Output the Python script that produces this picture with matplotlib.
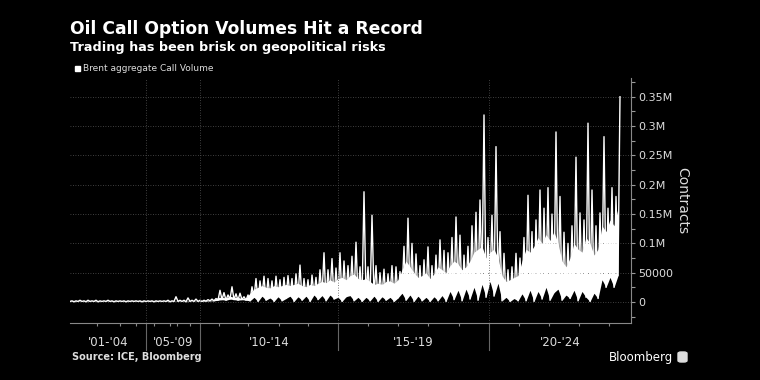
import matplotlib.pyplot as plt
import numpy as np
from matplotlib.patches import Rectangle, FancyBboxPatch
from matplotlib.ticker import FixedLocator, FuncFormatter

# Brent aggregate call volume, in thousands of contracts.
# Each bin holds the low, the typical level and the high of the daily values.
vol_high = [
    2, 2, 3, 2, 3, 2, 3, 2, 2, 3, 2, 2, 2, 2, 2, 2, 2, 2, 2,
    2, 2, 2, 2, 2, 3, 2, 9, 3, 3, 7, 3, 5, 3,
    3, 4, 5, 6, 20, 16, 12, 26, 14, 15, 9, 12,
    26, 40, 36, 44, 40, 36, 44, 38, 42, 45, 40, 48, 63,
    40, 38, 46, 42, 55, 84, 55, 74, 58, 84, 70, 62, 78, 102, 60,
    188, 60, 148, 62, 50, 56, 48, 62, 60, 52,
    95, 143, 100, 82, 62, 72, 94, 62,
    80, 106, 88, 84, 110, 145, 114, 80, 95,
    130, 153, 174, 319, 110, 148, 265, 120,
    83, 55, 60, 83, 75,
    110, 182, 120, 140, 191, 160, 195, 150, 290, 180,
    119, 100, 130, 247, 152, 140, 305, 191, 130, 152,
    282, 160, 195, 180, 350,
]
vol_typical = [
    1.5, 1.5, 1.5, 1.5, 1.5, 1.5, 1.5, 1.5, 1.5, 1.5, 1.5, 1.5, 1.5, 1.5, 1.5, 1.5, 1.5, 1.5, 1.5,
    1.5, 1.5, 1.5, 1.5, 1.5, 1.5, 1.5, 1.5, 1.5, 1.5, 1.5, 1.5, 1.5, 1.5,
    2, 2.5, 3, 3.5, 8, 8, 7, 10, 8, 8, 6, 7,
    15, 22, 25, 28, 25, 24, 28, 26, 28, 30, 28, 30, 32,
    28, 26, 30, 28, 32, 35, 33, 38, 34, 40, 42, 38, 45, 48, 40,
    38, 40, 35, 30, 32, 30, 35, 36, 32, 38,
    55, 70, 60, 50, 42, 45, 50, 40,
    48, 60, 55, 50, 62, 70, 65, 55, 60,
    70, 85, 90, 95, 75, 85, 90, 75,
    45, 35, 38, 42, 45,
    70, 90, 85, 95, 110, 100, 115, 105, 120, 100,
    70, 60, 75, 100, 90, 85, 110, 100, 80, 90,
    130, 120, 140, 130, 160,
]
vol_low = [
    1, 0.5, 1, 1, 0.5, 1, 1, 0.5, 1, 1, 1, 0.5, 1, 1, 0.5, 1, 1, 1, 0.5,
    1, 1, 0.5, 1, 1, 1, 0.5, 1, 1, 1, 0.5, 1, 1, 1,
    1, 1.5, 2, 2, 3, 4, 3, 5, 4, 3, 4, 3,
    2, 8, 1, 10, 3, 7, 1, 9, 2, 6, 10, 1, 9,
    3, 10, 1, 12, 4, 11, 2, 12, 5, 8, 1, 9, 11, 2, 8,
    1, 8, 2, 10, 1, 9, 3, 8, 1, 7,
    15, 3, 12, 1, 10, 2, 8, 1,
    9, 2, 11, 1, 18, 4, 20, 2, 22,
    5, 25, 3, 30, 8, 35, 10, 32,
    2, 8, 1, 6, 2,
    14, 2, 20, 1, 18, 5, 25, 3, 16, 22,
    3, 12, 6, 20, 2, 18, 8, 1, 15, 6,
    38, 25, 42, 25, 45,
]

# observation index where each period starts, plus the axis end
period_starts = [0, 76, 130, 268, 419]
period_labels = ["'01-'04", "'05-'09", "'10-'14", "'15-'19", "'20-'24"]
axis_end = 561
year_ticks = [27, 50, 66, 84, 100, 107, 120, 149, 178, 209, 238,
              298, 328, 358, 389, 449, 479, 509, 539]
bin_width = 4

hi = np.array(vol_high) * 1000
mid = np.array(vol_typical) * 1000
lo = np.array(vol_low) * 1000
n = len(hi)
xb = np.arange(n) * bin_width
xs = np.empty(2 * n)
ys = np.empty(2 * n)
xs[0::2] = xb
xs[1::2] = xb + bin_width / 2
ys[0::2] = lo
ys[1::2] = hi

fig = plt.figure(figsize=(7.6, 3.8), dpi=100, facecolor='black')
ax = fig.add_axes([70 / 760, 1 - 323 / 380, 561 / 760, 245 / 380])
ax.set_facecolor('black')

ax.fill_between(xb, lo, np.maximum(mid, lo), color='white', lw=0)
ax.plot(xs, ys, color='white', lw=1.0)

ax.set_xlim(0, axis_end)
ax.set_ylim(-35800, 382000)

# y axis on the right
ax.yaxis.tick_right()
ax.yaxis.set_label_position('right')
ax.set_yticks(np.arange(0, 350001, 50000))
ax.yaxis.set_minor_locator(FixedLocator(np.arange(-25000, 380000, 50000)))
ax.yaxis.set_major_formatter(FuncFormatter(
    lambda v, p: '0' if v == 0 else ('50000' if v == 50000 else f'{v / 1e6:g}M')))
ax.tick_params(axis='y', which='both', colors='#999999', labelcolor='#dddddd',
               labelsize=8, length=3, width=0.8, pad=2)
ax.set_ylabel('Contracts', rotation=270, color='#dddddd', fontsize=10, labelpad=12)
ax.grid(axis='y', color='#555555', linestyle=(0, (1, 2)), linewidth=0.6)

# x axis: period labels centred, year ticks as minor ticks
ends = period_starts[1:] + [axis_end]
centres = [(a + b) / 2 for a, b in zip(period_starts, ends)]
ax.set_xticks(centres)
ax.set_xticklabels(period_labels)
ax.xaxis.set_minor_locator(FixedLocator(year_ticks))
ax.tick_params(axis='x', which='major', length=0, pad=9, labelsize=8.5,
               labelcolor='#dddddd')
ax.tick_params(axis='x', which='minor', length=2.5, width=0.8, colors='#888888')

for s in period_starts[1:]:
    ax.axvline(s, color='#555555', linestyle=(0, (1, 2)), linewidth=0.6)
    ax.plot([s, s], [0, -0.11], color='#666666', lw=0.8,
            transform=ax.get_xaxis_transform(), clip_on=False)

for side in ['top', 'left']:
    ax.spines[side].set_visible(False)
ax.spines['right'].set_color('#888888')
ax.spines['bottom'].set_color('#888888')

# titles and notes
fig.text(70 / 760, 1 - 34 / 380, 'Oil Call Option Volumes Hit a Record',
         color='white', fontsize=12.3, fontweight='bold', va='baseline')
fig.text(70 / 760, 1 - 51 / 380, 'Trading has been brisk on geopolitical risks',
         color='white', fontsize=9.2, fontweight='bold', va='baseline')
fig.patches.append(Rectangle((75 / 760, 1 - 71 / 380), 5 / 760, 5 / 380,
                             transform=fig.transFigure, color='white'))
fig.text(83 / 760, 1 - 68.5 / 380, 'Brent aggregate Call Volume',
         color='#dddddd', fontsize=6.5, va='center')
fig.text(72 / 760, 1 - 357 / 380, 'Source: ICE, Bloomberg',
         color='#dddddd', fontsize=7, fontweight='bold', va='center')
fig.text(673 / 760, 1 - 357 / 380, 'Bloomberg', color='white',
         fontsize=8.5, va='center', ha='right')
fig.patches.append(FancyBboxPatch((678 / 760, 1 - 362 / 380), 9 / 760, 10 / 380,
                                  boxstyle='round,pad=0,rounding_size=0.004',
                                  transform=fig.transFigure, color='#dddddd'))

fig.savefig('out.png', dpi=100, facecolor='black')
